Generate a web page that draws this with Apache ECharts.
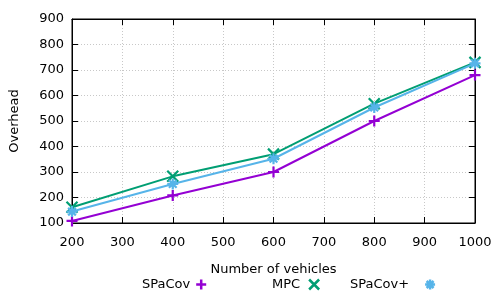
<!DOCTYPE html>
<html><head><meta charset="utf-8">
<script src="https://cdn.jsdelivr.net/npm/echarts@6/dist/echarts.min.js"></script>
<style>html,body{margin:0;padding:0;background:#fff}#c{width:500px;height:300px}</style>
</head><body><div id="c"></div>
<script>
var xValues = [200, 400, 600, 800, 1000];
var spacov = [108, 208, 300, 500, 680];
var mpc = [162, 283, 370, 568, 730];
var spacovPlus = [145, 253, 352, 553, 726];
var seriesNames = ['SPaCov', 'MPC', 'SPaCov+'];
var colors = ['#9400d3', '#009e73', '#56b4e9'];

var plusPath = 'path://M5,0L5,10M0,5L10,5';
var crossPath = 'path://M0,0L10,10M0,10L10,0';
var starPath = 'path://M5,0L5,10M0,5L10,5M1.5,1.5L8.5,8.5M1.5,8.5L8.5,1.5';
var symbols = [plusPath, crossPath, starPath];
var datasets = [spacov, mpc, spacovPlus];

var font = 'DejaVu Sans';
var fs = 13;
var chart = echarts.init(document.getElementById('c'), null, {renderer: 'canvas'});

function pairs(arr) { return xValues.map(function (x, i) { return [x, arr[i]]; }); }

var series = datasets.map(function (d, i) {
  return {
    name: seriesNames[i], type: 'line', data: pairs(d),
    symbol: symbols[i], symbolSize: 11, showAllSymbol: true,
    lineStyle: {color: colors[i], width: 2},
    itemStyle: {color: 'none', borderColor: colors[i], borderWidth: 2.2},
    emphasis: {disabled: true}, animation: false, z: 3 + i
  };
});

var legendLefts = [142, 272, 350];
var legendGaps = [6, 9, 16];
var legends = seriesNames.map(function (n, i) {
  return {
    data: [{name: n, icon: symbols[i], itemStyle: {color: 'none', borderColor: colors[i], borderWidth: 2.5}}],
    left: legendLefts[i], top: 277, padding: 0, align: 'right', itemWidth: 10, itemHeight: 10,
    textStyle: {fontFamily: font, fontSize: fs, color: '#000', padding: [0, legendGaps[i] - 5, 0, 0]},
    selectedMode: false
  };
});

chart.setOption({
  animation: false,
  textStyle: {fontFamily: font},
  grid: {left: 72, right: 25, top: 19, bottom: 77, show: true, borderColor: '#000', borderWidth: 1},
  legend: legends,
  xAxis: [{
    type: 'value', min: 200, max: 1000, interval: 100,
    name: 'Number of vehicles', nameLocation: 'middle', nameGap: 40,
    nameTextStyle: {fontFamily: font, fontSize: fs, color: '#000'},
    axisLine: {show: true, lineStyle: {color: '#000'}},
    axisTick: {show: true, inside: true, length: 6, lineStyle: {color: '#000'}},
    axisLabel: {fontFamily: font, fontSize: fs, color: '#000', margin: 13, formatter: function (v) { return String(v); }},
    splitLine: {show: true, lineStyle: {color: '#c8c8c8', type: [1, 2], width: 1}}
  }, {
    type: 'value', position: 'top', min: 200, max: 1000, interval: 100,
    axisLine: {show: true, lineStyle: {color: '#000'}},
    axisTick: {show: true, inside: true, length: 6, lineStyle: {color: '#000'}},
    axisLabel: {show: false}, splitLine: {show: false}
  }],
  yAxis: [{
    type: 'value', min: 100, max: 900, interval: 100,
    name: 'Overhead', nameLocation: 'middle', nameGap: 51, nameRotate: 90,
    nameTextStyle: {fontFamily: font, fontSize: fs, color: '#000'},
    axisLine: {show: true, lineStyle: {color: '#000'}},
    axisTick: {show: true, inside: true, length: 6, lineStyle: {color: '#000'}},
    axisLabel: {fontFamily: font, fontSize: fs, color: '#000', margin: 8},
    splitLine: {show: true, lineStyle: {color: '#c8c8c8', type: [1, 2], width: 1}}
  }, {
    type: 'value', position: 'right', min: 100, max: 900, interval: 100,
    axisLine: {show: true, lineStyle: {color: '#000'}},
    axisTick: {show: true, inside: true, length: 6, lineStyle: {color: '#000'}},
    axisLabel: {show: false}, splitLine: {show: false}
  }],
  series: series
});
</script></body></html>
